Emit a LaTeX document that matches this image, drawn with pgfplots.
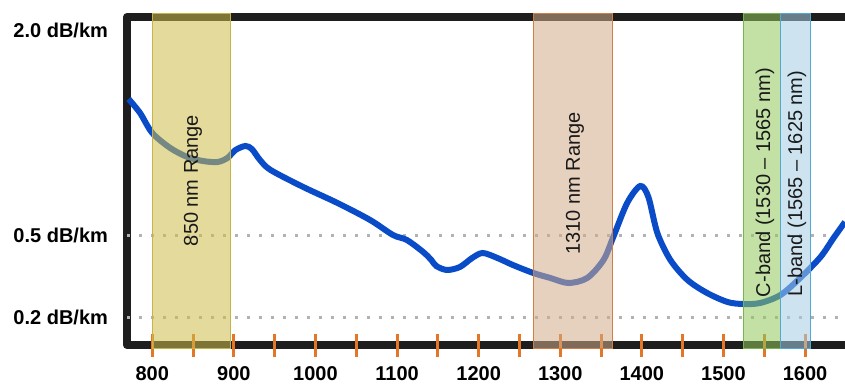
\documentclass[border=0pt]{standalone}
\usepackage{pgfplots}
\pgfplotsset{compat=1.18}
\usepackage{fontspec}
\setmainfont{Liberation Sans}
\definecolor{curvecol}{RGB}{10,75,200}
\definecolor{ycol}{RGB}{206,188,73}
\definecolor{yborder}{RGB}{200,180,70}
\definecolor{pcol}{RGB}{210,170,137}
\definecolor{pborder}{RGB}{210,125,70}
\definecolor{gcol}{RGB}{146,200,91}
\definecolor{gborder}{RGB}{120,180,80}
\definecolor{bcol}{RGB}{164,206,228}
\definecolor{bborder}{RGB}{80,170,210}
\definecolor{tickcol}{RGB}{228,118,40}
\definecolor{framecol}{RGB}{30,30,30}
\pgfplotsset{layers/mylayers/.define layer set={axis background,axis grid,axis lines,axis ticks,axis tick labels,main,axis descriptions,axis foreground}{}}
\begin{document}
\begin{tikzpicture}
\begin{axis}[
  set layers=mylayers,
  scale only axis, width=718pt, height=328pt,
  xmin=769, xmax=1649, ymin=0, ymax=328,
  clip=false,
  axis line style={draw=none},
  xtick={800,900,...,1600},
  xticklabels={800,900,1000,1100,1200,1300,1400,1500,1600},
  minor xtick={850,950,...,1550},
  xtick pos=left,
  ytick pos=left,
  major tick length=23pt, minor tick length=23pt,
  tick align=center,
  xtick style={draw=tickcol, line width=3pt},
  minor x tick style={draw=tickcol, line width=3pt},
  ytick={315},
  yticklabels={2.0 dB/km},
  extra y ticks={28,110},
  extra y tick labels={0.2 dB/km,0.5 dB/km},
  extra y tick style={grid=major, ytick style={draw=none}},
  ytick style={draw=none},
  major grid style={draw=black!30, line width=3pt, dash pattern=on 3pt off 9pt},
  ticklabel style={font=\fontsize{20}{22}\selectfont\bfseries, text=black},
  /pgf/number format/assume math mode=true,
  yticklabel style={xshift=-4pt},
  xticklabel style={yshift=-6pt},
]
\begin{pgfonlayer}{axis background}
\draw[framecol, line width=8pt, line cap=square, line join=round] (rel axis cs:1,1) -- (rel axis cs:0,1) -- (rel axis cs:0,0) -- (rel axis cs:1,0);
\end{pgfonlayer}
\addplot[curvecol, line width=6pt, smooth, tension=0.5] coordinates {
(771,246) (785,232) (800,212) (822,197) (843,188) (862,184) (880,183) (892,187)
(902,195) (914,199) (922,196) (932,185) (945,175) (985,158) (1027,142) (1067,125)
(1095,110) (1112,105) (1132,93) (1142,85) (1148,79) (1161,75) (1177,78) (1192,87)
(1205,92) (1223,87) (1242,80) (1267,72) (1288,67) (1310,62) (1333,67) (1353,85)
(1365,108) (1382,142) (1398,159) (1408,148) (1419,112) (1435,85) (1456,65) (1480,52)
(1505,43) (1524,41) (1545,42) (1570,50) (1594,67) (1619,88) (1635,107) (1649,123)
};
\addplot[fill=ycol, fill opacity=0.55, draw=yborder, line width=1pt] coordinates {(800,-3) (896,-3) (896,331) (800,331)} -- cycle;
\addplot[fill=pcol, fill opacity=0.55, draw=pborder, line width=1pt] coordinates {(1267,-3) (1364,-3) (1364,331) (1267,331)} -- cycle;
\addplot[fill=gcol, fill opacity=0.55, draw=gborder, line width=1pt] coordinates {(1524,-3) (1570,-3) (1570,331) (1524,331)} -- cycle;
\addplot[fill=bcol, fill opacity=0.55, draw=bborder, line width=1pt] coordinates {(1570,-3) (1607,-3) (1607,331) (1570,331)} -- cycle;
\node[rotate=90, font=\fontsize{20}{24}\selectfont, text=black!90] at (axis cs:850,164.5) {850 nm Range};
\node[rotate=90, font=\fontsize{20}{24}\selectfont, text=black!90] at (axis cs:1318,161.5) {1310 nm Range};
\node[rotate=90, font=\fontsize{20}{24}\selectfont, text=black!90] at (axis cs:1551,162.5) {C-band (1530 -- 1565 nm)};
\node[rotate=90, font=\fontsize{20}{24}\selectfont, text=black!90] at (axis cs:1590,161.5) {L-band (1565 -- 1625 nm)};
\coordinate (SW) at (rel axis cs:0,0);
\coordinate (NE) at (rel axis cs:1,1);
\end{axis}
\pgfresetboundingbox
\path[use as bounding box] ([xshift=-127pt,yshift=-38pt]SW) rectangle ([yshift=17pt]NE);
\end{tikzpicture}
\end{document}
